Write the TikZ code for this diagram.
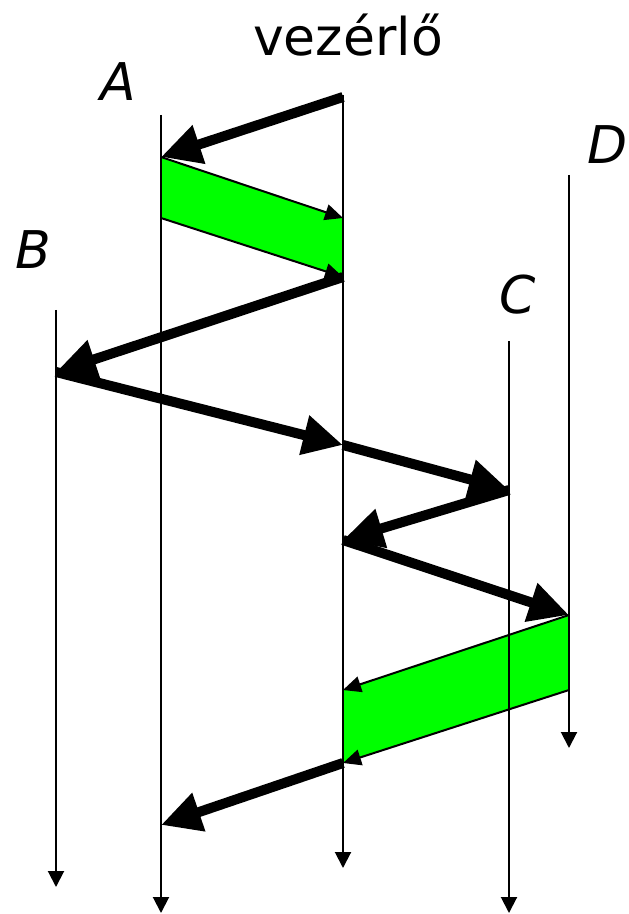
\documentclass[tikz,border=0pt]{standalone}
\usepackage{fontspec}
\setmainfont{DejaVu Sans}
\usepackage{tikz}
\usetikzlibrary{arrows.meta}
\usepackage{xcolor}
\definecolor{bandgreen}{RGB}{0,255,0}

\begin{document}
\begin{tikzpicture}[x=0.5pt, y=-0.5pt,
    lifeline/.style={line width=1pt, -{Triangle[length=8pt, width=8pt]}},
    msg/.style={line width=5pt, -{Triangle[length=20pt, width=19pt]}},
    edge/.style={line width=1pt, -{Triangle[length=9pt, width=8pt]}},
    band/.style={fill=bandgreen},
    lbl/.style={font=\fontsize{26}{30}\selectfont, inner sep=0pt}]
    \useasboundingbox (0,0) rectangle (628,914);

    % Names of the lifelines
    \node[lbl] (namev) at (348,35) {vezérlő};
    \node[lbl] (namea) at (118,82) {\itshape A};
    \node[lbl] (nameb) at (33,250) {\itshape B};
    \node[lbl] (namec) at (518,295) {\itshape C};
    \node[lbl] (named) at (608,145) {\itshape D};

    % Events
    \coordinate (v0) at (343,97);
    \coordinate (a0) at (161,157);
    \coordinate (a1) at (161,218);
    \coordinate (v1) at (343,218);
    \coordinate (v2) at (343,277);
    \coordinate (b0) at (56,372);
    \coordinate (v3) at (343,445);
    \coordinate (c0) at (509,490);
    \coordinate (v4) at (343,540);
    \coordinate (d0) at (569,615);
    \coordinate (d1) at (569,690);
    \coordinate (v5) at (343,690);
    \coordinate (v6) at (343,763);
    \coordinate (a2) at (161,825);

    % Green bands
    \fill[band] (a0) -- (v1) -- (v2) -- (a1) -- cycle;
    \fill[band] (d0) -- (v5) -- (v6) -- (d1) -- cycle;

    % Lifelines
    \foreach \n/\x/\t/\b in {b/56/310/887, a/161/115/913, v/343/95/868,
                            c/509/341/913, d/569/175/748} {
        \coordinate (\n top) at (\x,\t);
        \coordinate (\n bot) at (\x,\b);
        \draw[lifeline] (\n top) -- (\n bot);
    }

    % Band edges
    \draw[edge] (a0) -- (v1);
    \draw[edge] (a1) -- (v2);
    \draw[edge] (d0) -- (v5);
    \draw[edge] (d1) -- (v6);

    % Messages
    \draw[msg] (v0) -- (a0);
    \draw[msg] (v2) -- (b0);
    \draw[msg] (b0) -- (v3);
    \draw[msg] (v3) -- (c0);
    \draw[msg] (c0) -- (v4);
    \draw[msg] (v4) -- (d0);
    \draw[msg] (v6) -- (a2);

\end{tikzpicture}
\end{document}
